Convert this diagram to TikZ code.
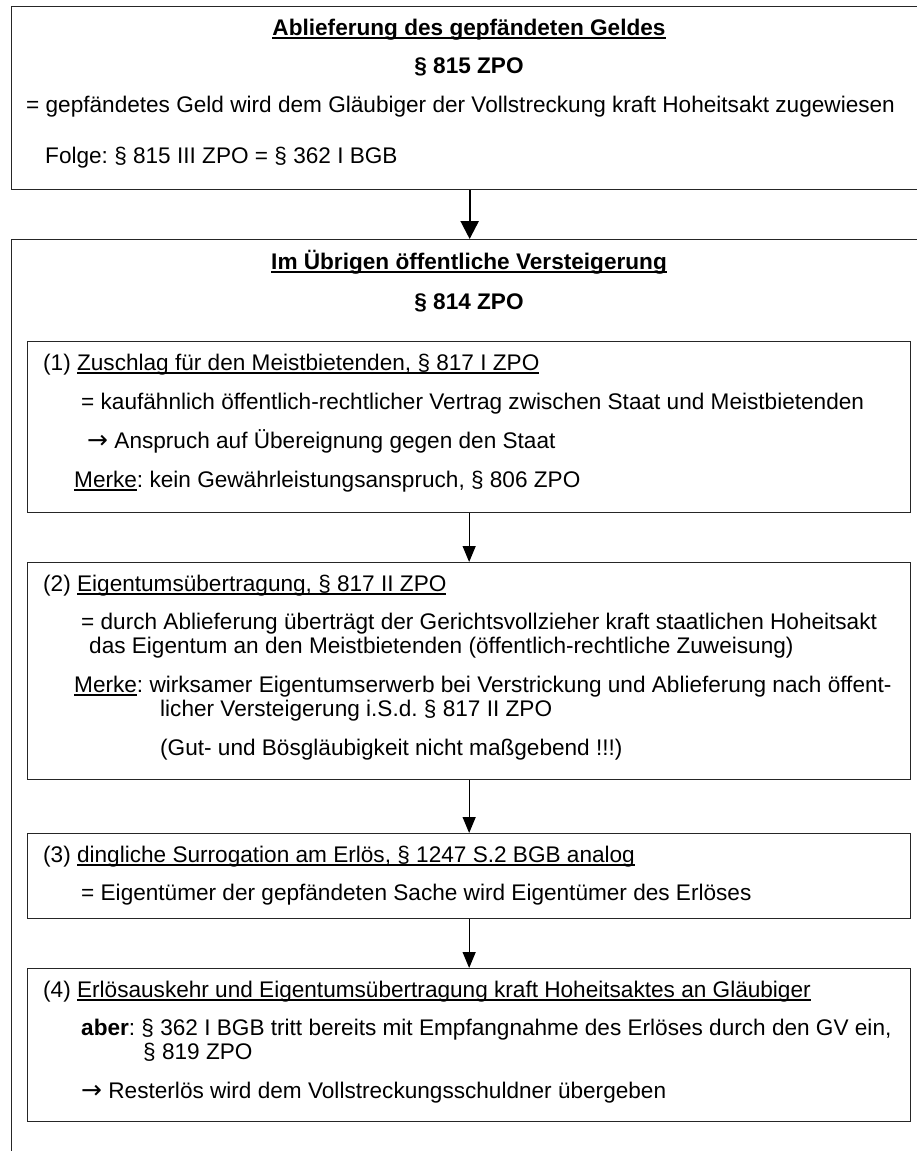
\documentclass[tikz,border=0pt]{standalone}
\usepackage{fontspec}
\setmainfont[Ligatures=NoCommon]{Liberation Sans}
\newfontfamily\arrowfont{DejaVu Sans}
\usetikzlibrary{arrows.meta}
\newcommand{\ulx}[1]{\setbox0\hbox{#1}\rlap{\rule[-3.6pt]{\wd0}{1.5pt}}\box0}
\newcommand{\ulb}[1]{\setbox0\hbox{#1}\rlap{\rule[-4.2pt]{\wd0}{2.1pt}}\box0}
\newcommand{\rarr}{{\arrowfont\fontsize{25}{28}\selectfont →}}
\frenchspacing
\begin{document}
\begin{tikzpicture}[x=1pt,y=-1pt,
  txt/.style={anchor=base west, inner sep=0pt, font=\fontsize{22.6}{26}\selectfont\frenchspacing},
  ctr/.style={anchor=base, inner sep=0pt, font=\fontsize{22.6}{26}\selectfont\bfseries},
  frame/.style={draw=black!85, line width=1.3pt, anchor=north west, inner sep=0pt},
  bigarrow/.style={line width=2.3pt, -{Triangle[width=18pt,length=18pt]}},
  smallarrow/.style={line width=1.3pt, -{Triangle[width=13pt,length=16pt]}}
]
\useasboundingbox (0,0) rectangle (917,1151);
\clip (0,0) rectangle (917,1151);
% frames
\node[frame, minimum width=916pt, minimum height=183pt] (top) at (11,6) {};
\node[frame, minimum width=916pt, minimum height=960pt] (outer) at (11,239) {};
\node[frame, minimum width=883pt, minimum height=171pt] (b1) at (27,341) {};
\node[frame, minimum width=883pt, minimum height=217pt] (b2) at (27,562) {};
\node[frame, minimum width=883pt, minimum height=85pt] (b3) at (27,833) {};
\node[frame, minimum width=883pt, minimum height=153pt] (b4) at (27,968) {};
% arrows
\draw[bigarrow] (top.south) -- (outer.north);
\draw[smallarrow] (b1.south) -- (b2.north);
\draw[smallarrow] (b2.south) -- (b3.north);
\draw[smallarrow] (b3.south) -- (b4.north);
% top box text
\node[ctr] (t1) at (469,35) {\ulb{Ablieferung des gepfändeten Geldes}};
\node[ctr] (t2) at (469,73) {§ 815 ZPO};
\node[txt] (t3) at (26,112) {= gepfändetes Geld wird dem Gläubiger der Vollstreckung kraft Hoheitsakt zugewiesen};
\node[txt] (t4) at (45,163) {Folge: § 815 III ZPO = § 362 I BGB};
% outer box text
\node[ctr] (o1) at (469,269) {\ulb{Im Übrigen öffentliche Versteigerung}};
\node[ctr] (o2) at (469,309) {§ 814 ZPO};
% box 1
\node[txt] (a1) at (43,370) {(1) \ulx{Zuschlag für den Meistbietenden, § 817 I ZPO}};
\node[txt] (a2) at (81,409) {= kaufähnlich öffentlich-rechtlicher Vertrag zwischen Staat und Meistbietenden};
\node[txt] (a3) at (87,448) {\rarr\ Anspruch auf Übereignung gegen den Staat};
\node[txt] (a4) at (74,487) {\ulx{Merke}: kein Gewährleistungsanspruch, § 806 ZPO};
% box 2
\node[txt] (c1) at (43,591) {(2) \ulx{Eigentumsübertragung, § 817 II ZPO}};
\node[txt] (c2) at (81,629) {= durch Ablieferung überträgt der Gerichtsvollzieher kraft staatlichen Hoheitsakt};
\node[txt] (c3) at (89,653) {das Eigentum an den Meistbietenden (öffentlich-rechtliche Zuweisung)};
\node[txt] (c4) at (74,692) {\ulx{Merke}: wirksamer Eigentumserwerb bei Verstrickung und Ablieferung nach öffent-};
\node[txt] (c5) at (160,716) {licher Versteigerung i.S.d. § 817 II ZPO};
\node[txt] (c6) at (160,755) {(Gut- und Bösgläubigkeit nicht maßgebend !!!)};
% box 3
\node[txt] (d1) at (43,862) {(3) \ulx{dingliche Surrogation am Erlös, § 1247 S.2 BGB analog}};
\node[txt] (d2) at (81,900) {= Eigentümer der gepfändeten Sache wird Eigentümer des Erlöses};
% box 4
\node[txt] (e1) at (43,997) {(4) \ulx{Erlösauskehr und Eigentumsübertragung kraft Hoheitsaktes an Gläubiger}};
\node[txt] (e2) at (81,1035) {\textbf{aber}: § 362 I BGB tritt bereits mit Empfangnahme des Erlöses durch den GV ein,};
\node[txt] (e3) at (143,1059) {§ 819 ZPO};
\node[txt] (e4) at (81,1098) {\rarr\ Resterlös wird dem Vollstreckungsschuldner übergeben};
\end{tikzpicture}
\end{document}
